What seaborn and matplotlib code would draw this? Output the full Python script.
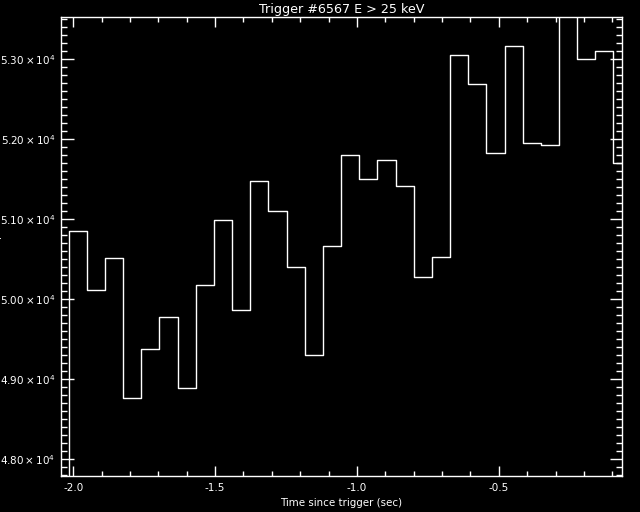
import numpy as np
import pandas as pd
import seaborn as sns
import matplotlib
matplotlib.use("Agg")
import matplotlib.pyplot as plt
from matplotlib.ticker import MultipleLocator, FuncFormatter

# 64 ms bins, counts per bin
bin_start = -2.016
bin_width = 0.064
counts = [50846, 50108, 50508, 48758, 49371, 49771, 48883, 50171, 50983, 49858,
          51471, 51096, 50396, 49296, 50658, 51796, 51496, 51733, 51412, 50271,
          50521, 53046, 52683, 51821, 53158, 51946, 51921, 53700, 52996, 53096,
          51696]

times = bin_start + bin_width * np.arange(len(counts))
# closing edge for the last bin and an opening edge from the floor
t_plot = np.concatenate([[times[0]], times, [times[-1] + bin_width]])
c_plot = np.concatenate([[0], counts, [counts[-1]]])
df = pd.DataFrame({"time": t_plot, "counts": c_plot})

sns.set_style("dark")
plt.rcParams["font.family"] = ["DejaVu Sans"]
plt.rcParams["mathtext.fontset"] = "dejavusans"

fig = plt.figure(figsize=(6.4, 5.12), dpi=100, facecolor="black")
ax = fig.add_axes([61 / 640, 1 - 476 / 512, (622 - 61) / 640, (476 - 17) / 512])
ax.set_facecolor("black")

sns.lineplot(data=df, x="time", y="counts", drawstyle="steps-post",
             color="white", linewidth=1.0, ax=ax, estimator=None, sort=False)

ax.set_xlim(-2.043, -0.066)
ax.set_ylim(47787, 53525)

ax.xaxis.set_major_locator(MultipleLocator(0.5))
ax.xaxis.set_minor_locator(MultipleLocator(0.1))
ax.yaxis.set_major_locator(MultipleLocator(1000))
ax.yaxis.set_minor_locator(MultipleLocator(100))
ax.xaxis.set_major_formatter(FuncFormatter(lambda v, p: "%.1f" % v))
ax.yaxis.set_major_formatter(FuncFormatter(lambda v, p: r"$%.2f\times10^{4}$" % (v / 1e4)))

ax.tick_params(which="both", direction="in", colors="white", labelcolor="white",
               top=True, right=True, bottom=True, left=True, labelsize=7.5, width=1)
ax.tick_params(axis="x", which="major", length=7, pad=5)
ax.tick_params(axis="x", which="minor", length=3.5)
ax.tick_params(axis="y", which="major", length=9, pad=4)
ax.tick_params(axis="y", which="minor", length=4.5)
for s in ax.spines.values():
    s.set_color("white")
    s.set_linewidth(1)
    s.set_visible(True)
ax.grid(False)

ax.set_title("Trigger #6567 E > 25 keV", color="white", fontsize=9.2, pad=3)
ax.set_xlabel("Time since trigger (sec)", color="white", fontsize=7.4, labelpad=4)
ax.set_ylabel("")
fig.text(-0.004, 0.52, "Counts/sec", rotation=90, color="white", fontsize=8,
         ha="center", va="center")

fig.savefig("out.png", dpi=100, facecolor="black")
